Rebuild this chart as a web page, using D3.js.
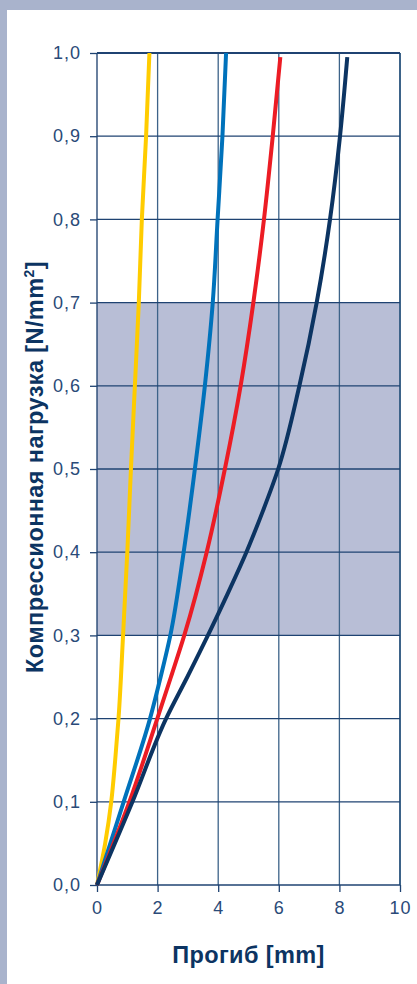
<!DOCTYPE html>
<html><head><meta charset="utf-8">
<script src="https://cdn.jsdelivr.net/npm/d3@7"></script>
<style>
html,body{margin:0;padding:0;background:#a9b3cc;}
svg{display:block;}
</style></head>
<body>
<svg id="c" width="417" height="984"></svg>
<script>
// ---- data ----
const xTicks = [0, 2, 4, 6, 8, 10];
const yTicks = [0, 0.1, 0.2, 0.3, 0.4, 0.5, 0.6, 0.7, 0.8, 0.9, 1.0];
const bandRange = [0.3, 0.7];
const yellowLoad = [0, 0.05, 0.1, 0.15, 0.2, 0.3, 0.4, 0.5, 0.6, 0.7, 0.8, 0.9, 1.0];
const yellowDefl = [0, 0.27, 0.47, 0.6, 0.71, 0.86, 1.0, 1.12, 1.25, 1.38, 1.48, 1.62, 1.73];
const blueLoad = [0, 0.1, 0.2, 0.25, 0.3, 0.4, 0.5, 0.6, 0.7, 0.8, 0.9, 1.0];
const blueDefl = [0, 0.88, 1.75, 2.1, 2.42, 2.86, 3.23, 3.56, 3.82, 3.98, 4.14, 4.26];
const redLoad = [0, 0.1, 0.2, 0.25, 0.3, 0.4, 0.5, 0.6, 0.7, 0.8, 0.9, 0.995];
const redDefl = [0, 1.07, 1.99, 2.44, 2.88, 3.62, 4.22, 4.74, 5.16, 5.51, 5.80, 6.05];
const navyLoad = [0, 0.1, 0.2, 0.25, 0.3, 0.35, 0.4, 0.45, 0.5, 0.6, 0.7, 0.8, 0.9, 0.995];
const navyDefl = [0, 1.17, 2.28, 2.98, 3.66, 4.31, 4.93, 5.48, 5.98, 6.68, 7.25, 7.69, 8.02, 8.26];
const xTitle = "Прогиб [mm]";
const yTitle = "Компрессионная нагрузка [N/mm";

// ---- styles ----
const colors = {yellow: "#ffcc00", blue: "#0072bb", red: "#ec1c24", navy: "#0c3462"};
const series = [
  {name: "yellow", load: yellowLoad, defl: yellowDefl},
  {name: "blue", load: blueLoad, defl: blueDefl},
  {name: "red", load: redLoad, defl: redDefl},
  {name: "navy", load: navyLoad, defl: navyDefl}
];

const svg = d3.select("#c");
const mLeft = 97, mRight = 400, mTop = 53, mBottom = 885;
const x = d3.scaleLinear().domain([0, 10]).range([mLeft, mRight]);
const y = d3.scaleLinear().domain([0, 1]).range([mBottom, mTop]);

// white panel
svg.append("rect").attr("x", 7).attr("y", 10).attr("width", 410).attr("height", 974).attr("fill", "#ffffff");

// band
svg.append("rect")
  .attr("x", x(0)).attr("width", x(10) - x(0))
  .attr("y", y(bandRange[1])).attr("height", y(bandRange[0]) - y(bandRange[1]))
  .attr("fill", "#b8bed6");

// grid
const g = svg.append("g");
g.selectAll("line.v").data(xTicks).join("line")
  .attr("x1", d => x(d)).attr("x2", d => x(d))
  .attr("y1", y(1)).attr("y2", y(0))
  .attr("stroke", d => d === 0 ? "#1a3d6b" : "#3d6389")
  .attr("stroke-width", d => d === 10 ? 2 : 1.3);
g.selectAll("line.h").data(yTicks).join("line")
  .attr("x1", x(0)).attr("x2", x(10))
  .attr("y1", d => y(d)).attr("y2", d => y(d))
  .attr("stroke", "#1f4372")
  .attr("stroke-width", d => d === 1 ? 1.8 : 1.3);

// axes
const font = "'Liberation Sans', Arial, sans-serif";
const yAxis = svg.append("g").attr("transform", `translate(${mLeft},0)`)
  .call(d3.axisLeft(y).tickValues(yTicks).tickSizeInner(7).tickSizeOuter(0).tickPadding(9)
    .tickFormat(d => d3.format(".1f")(d).replace(".", ",")));
const xAxis = svg.append("g").attr("transform", `translate(0,${mBottom})`)
  .call(d3.axisBottom(x).tickValues(xTicks).tickSizeInner(7).tickSizeOuter(0).tickPadding(9)
    .tickFormat(d3.format("d")));
[yAxis, xAxis].forEach(a => {
  a.select(".domain").remove();
  a.selectAll(".tick line").attr("stroke", "#1f4372").attr("stroke-width", 1.3);
  a.selectAll(".tick text").attr("fill", "#2a4a78").attr("font-family", font)
    .attr("font-size", 18).attr("letter-spacing", 1);
});

// curves
const line = d3.line().x(d => x(d[0])).y(d => y(d[1])).curve(d3.curveMonotoneY);
svg.append("g").selectAll("path").data(series).join("path")
  .attr("d", s => line(s.defl.map((v, i) => [v, s.load[i]])))
  .attr("fill", "none")
  .attr("stroke", s => colors[s.name])
  .attr("stroke-width", 4)
  .attr("stroke-linejoin", "round");

// titles
svg.append("text").attr("x", (mLeft + mRight) / 2).attr("y", 963)
  .attr("text-anchor", "middle").attr("font-family", font).attr("font-weight", "bold")
  .attr("font-size", 23.5).attr("letter-spacing", 0.4).attr("fill", "#0c3462").text(xTitle);
const yt = svg.append("text").attr("transform", `translate(43,467) rotate(-90)`)
  .attr("text-anchor", "middle").attr("font-family", font).attr("font-weight", "bold")
  .attr("font-size", 23.5).attr("letter-spacing", 0.4).attr("fill", "#0c3462");
yt.append("tspan").text(yTitle);
yt.append("tspan").attr("font-size", 14).attr("dy", -9).text("2");
yt.append("tspan").attr("dy", 9).text("]");
</script>
</body></html>
